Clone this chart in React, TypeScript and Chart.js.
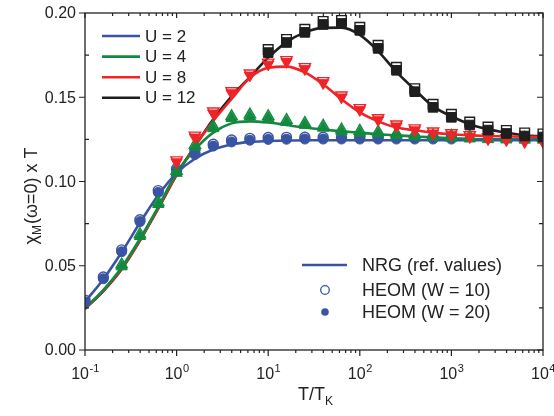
import React, { useEffect, useRef } from "react";
import { Chart, registerables } from "chart.js";

Chart.register(...registerables);

// Temperature grid T/T_K (0.2 decade steps from 10^-1 to 10^4)
const T = [
  0.1, 0.1585, 0.2512, 0.3981, 0.631, 1, 1.585, 2.512, 3.981, 6.31, 10, 15.85,
  25.12, 39.81, 63.1, 100, 158.5, 251.2, 398.1, 631, 1000, 1585, 2512, 3981,
  6310, 10000,
];

// NRG reference curves (one value per T)
const nrgU2 = [
  0.0286, 0.042, 0.058, 0.0755, 0.092, 0.105, 0.1135, 0.119, 0.122, 0.1235,
  0.124, 0.1243, 0.1245, 0.1245, 0.1245, 0.1245, 0.1245, 0.1245, 0.1245,
  0.1245, 0.1245, 0.1245, 0.1245, 0.1245, 0.1245, 0.1245,
];
const nrgU4 = [
  0.0248, 0.0356, 0.049, 0.066, 0.085, 0.105, 0.119, 0.129, 0.1345, 0.1357,
  0.135, 0.1335, 0.132, 0.1308, 0.1298, 0.129, 0.128, 0.1274, 0.1268, 0.1262,
  0.1257, 0.1253, 0.125, 0.125, 0.125, 0.125,
];
const nrgU8 = [
  0.0245, 0.0352, 0.0482, 0.0652, 0.0842, 0.104, 0.121, 0.136, 0.149, 0.1615,
  0.1675, 0.1682, 0.1648, 0.1577, 0.1488, 0.141, 0.1357, 0.132, 0.1304, 0.129,
  0.128, 0.1274, 0.127, 0.1268, 0.1266, 0.1265,
];
const nrgU12 = [
  0.0244, 0.035, 0.048, 0.065, 0.084, 0.104, 0.121, 0.137, 0.1506, 0.162,
  0.1735, 0.1827, 0.1885, 0.1912, 0.1913, 0.187, 0.1774, 0.165, 0.1545,
  0.1446, 0.1387, 0.134, 0.131, 0.129, 0.1274, 0.1268,
];

// HEOM results: U = 2 (T index 0..20)
const heomU2_W20 = [
  0.0286, 0.0423, 0.0583, 0.0762, 0.0935, 0.1065, 0.116, 0.121, 0.1235,
  0.1245, 0.125, 0.1251, 0.1252, 0.1252, 0.1252, 0.1252, 0.1252, 0.1252,
  0.1252, 0.1252, 0.1252,
];
const heomU2_W10 = [
  0.0296, 0.0433, 0.0594, 0.0773, 0.0946, 0.1076, 0.1171, 0.1221, 0.1246,
  0.1256, 0.1261, 0.1262, 0.1263, 0.1263, 0.1263, 0.1263, 0.1263, 0.1263,
  0.1263, 0.1263, 0.1263,
];
// U = 4 (T index 2..25)
const heomU4_W20 = [
  0.0495, 0.0675, 0.0865, 0.105, 0.1205, 0.1315, 0.1375, 0.1385, 0.1375,
  0.1352, 0.1335, 0.1318, 0.1296, 0.1288, 0.1283, 0.1272, 0.1266, 0.1262,
  0.1258, 0.1254, 0.125, 0.1248, 0.1247, 0.1247,
];
const heomU4_W10 = [
  0.0507, 0.0687, 0.0877, 0.1062, 0.1217, 0.1327, 0.1387, 0.1397, 0.1387,
  0.1364, 0.1347, 0.133, 0.1308, 0.13, 0.1295, 0.1284, 0.1278, 0.1274, 0.127,
  0.1266, 0.1262, 0.126, 0.1259, 0.1259,
];
// U = 8 (T index 5..25)
const heomU8_W20 = [
  0.1115, 0.1262, 0.1405, 0.1525, 0.163, 0.1695, 0.171, 0.1668, 0.1585, 0.15,
  0.1425, 0.1365, 0.1328, 0.1305, 0.1286, 0.1276, 0.1264, 0.1252, 0.1246,
  0.1235, 0.1235,
];
const heomU8_W10 = [
  0.1127, 0.1274, 0.1417, 0.1537, 0.1642, 0.1707, 0.1722, 0.168, 0.1597,
  0.1512, 0.1437, 0.1377, 0.134, 0.1317, 0.1298, 0.1288, 0.1276, 0.1264,
  0.1258, 0.1247, 0.1247,
];
// U = 12 (T index 10..25)
const heomU12_W20 = [
  0.1765, 0.1825, 0.1885, 0.1932, 0.1938, 0.1897, 0.179, 0.166, 0.1533, 0.144,
  0.1381, 0.1335, 0.1305, 0.1285, 0.127, 0.1264,
];
const heomU12_W10 = [
  0.1783, 0.1843, 0.1903, 0.195, 0.1956, 0.1915, 0.1808, 0.1678, 0.1551,
  0.1458, 0.1399, 0.1353, 0.1323, 0.1303, 0.1288, 0.1282,
];

const X_DECADES = [-1, 0, 1, 2, 3, 4];
const Y_MAJOR = [0, 0.05, 0.1, 0.15, 0.2];
const Y_MINOR = [0.025, 0.075, 0.125, 0.175];
const LEGEND_U = ["U = 2", "U = 4", "U = 8", "U = 12"];
const LEGEND_KIND = ["NRG (ref. values)", "HEOM (W = 10)", "HEOM (W = 20)"];

const BLUE = "#3a54a4";
const GREEN = "#128a3e";
const RED = "#ee2428";
const BLACK = "#1e1e1e";
const COLORS = [BLUE, GREEN, RED, BLACK];
const FONT = '"Liberation Sans", Arial, sans-serif';

const pts = (vals: number[], start: number) =>
  vals.map((v, i) => ({ x: T[start + i], y: v }));

const axesPlugin = {
  id: "customAxes",
  afterDraw(chart: any) {
    const ctx = chart.ctx as CanvasRenderingContext2D;
    const { left, right, top, bottom } = chart.chartArea;
    const xs = chart.scales.x;
    const ys = chart.scales.y;
    ctx.save();
    ctx.strokeStyle = "#222";
    ctx.lineWidth = 1.3;
    ctx.strokeRect(left, top, right - left, bottom - top);

    ctx.lineWidth = 1.2;
    ctx.beginPath();
    X_DECADES.forEach((d) => {
      const px = xs.getPixelForValue(Math.pow(10, d));
      ctx.moveTo(px, bottom);
      ctx.lineTo(px, bottom + 6);
      ctx.moveTo(px, top);
      ctx.lineTo(px, top + 5);
      if (d < 4) {
        for (let m = 2; m <= 9; m++) {
          const p = xs.getPixelForValue(m * Math.pow(10, d));
          ctx.moveTo(p, bottom);
          ctx.lineTo(p, bottom + 3);
          ctx.moveTo(p, top);
          ctx.lineTo(p, top + 3);
        }
      }
    });
    Y_MAJOR.forEach((v) => {
      const py = ys.getPixelForValue(v);
      ctx.moveTo(left - 6, py);
      ctx.lineTo(left, py);
      ctx.moveTo(right, py);
      ctx.lineTo(right - 6, py);
    });
    Y_MINOR.forEach((v) => {
      const py = ys.getPixelForValue(v);
      ctx.moveTo(left, py);
      ctx.lineTo(left + 4, py);
      ctx.moveTo(right, py);
      ctx.lineTo(right - 4, py);
    });
    ctx.stroke();

    ctx.fillStyle = "#222";
    // y tick labels
    ctx.font = `16px ${FONT}`;
    ctx.textAlign = "right";
    ctx.textBaseline = "middle";
    Y_MAJOR.forEach((v) => {
      ctx.fillText(v.toFixed(2), left - 9, ys.getPixelForValue(v) + 1);
    });

    // x tick labels 10^d
    ctx.textAlign = "left";
    ctx.textBaseline = "alphabetic";
    X_DECADES.forEach((d) => {
      const px = xs.getPixelForValue(Math.pow(10, d));
      ctx.font = `16px ${FONT}`;
      const wb = ctx.measureText("10").width;
      ctx.font = `11px ${FONT}`;
      const exp = d < 0 ? "-" + Math.abs(d) : String(d);
      const we = ctx.measureText(exp).width;
      const x0 = px - (wb + we) / 2;
      ctx.font = `16px ${FONT}`;
      ctx.fillText("10", x0, 379);
      ctx.font = `11px ${FONT}`;
      ctx.fillText(exp, x0 + wb + 0.5, 372);
    });

    // x title T/T_K
    ctx.font = `18px ${FONT}`;
    ctx.fillText("T/T", 298, 400);
    const wt = ctx.measureText("T/T").width;
    ctx.font = `12px ${FONT}`;
    ctx.fillText("K", 298 + wt, 405);

    // y title chi_M(omega=0) x T
    ctx.save();
    ctx.translate(31, 196);
    ctx.rotate(-Math.PI / 2);
    ctx.font = `18px ${FONT}`;
    const w1 = ctx.measureText("χ").width;
    const rest = "(ω=0) x T";
    const w3 = ctx.measureText(rest).width;
    ctx.font = `12px ${FONT}`;
    const w2 = ctx.measureText("M").width;
    const total = w1 + w2 + w3 + 1;
    let cx = -total / 2;
    ctx.font = `18px ${FONT}`;
    ctx.fillText("χ", cx, 6);
    cx += w1;
    ctx.font = `12px ${FONT}`;
    ctx.fillText("M", cx, 10);
    cx += w2 + 1;
    ctx.font = `18px ${FONT}`;
    ctx.fillText(rest, cx, 6);
    ctx.restore();

    // legend U
    ctx.textBaseline = "middle";
    ctx.font = `17px ${FONT}`;
    LEGEND_U.forEach((lab, i) => {
      const y = 36 + i * 20.6;
      ctx.strokeStyle = COLORS[i];
      ctx.lineWidth = 2.6;
      ctx.beginPath();
      ctx.moveTo(102, y);
      ctx.lineTo(140, y);
      ctx.stroke();
      ctx.fillStyle = "#222";
      ctx.fillText(lab, 145, y + 1);
    });

    // legend kinds
    ctx.font = `18px ${FONT}`;
    const ly = [265, 290, 312];
    ctx.strokeStyle = BLUE;
    ctx.lineWidth = 2.6;
    ctx.beginPath();
    ctx.moveTo(302, ly[0]);
    ctx.lineTo(347, ly[0]);
    ctx.stroke();
    ctx.lineWidth = 1.3;
    ctx.beginPath();
    ctx.arc(325, ly[1], 4.3, 0, Math.PI * 2);
    ctx.stroke();
    ctx.fillStyle = BLUE;
    ctx.beginPath();
    ctx.arc(325, ly[2], 3.8, 0, Math.PI * 2);
    ctx.fill();
    ctx.fillStyle = "#222";
    LEGEND_KIND.forEach((lab, i) => ctx.fillText(lab, 362, ly[i] + 1));

    ctx.restore();
  },
};

function lineDs(vals: number[], color: string) {
  return {
    data: pts(vals, 0),
    borderColor: color,
    backgroundColor: color,
    borderWidth: 2.6,
    pointRadius: 0,
    cubicInterpolationMode: "monotone" as const,
    showLine: true,
    order: 10,
  };
}

function markerDs(
  vals: number[],
  start: number,
  color: string,
  style: string,
  radius: number,
  filled: boolean,
  order: number,
  rotation = 0
) {
  return {
    data: pts(vals, start),
    showLine: false,
    pointStyle: style,
    pointRadius: radius,
    pointRotation: rotation,
    pointBorderColor: color,
    pointBackgroundColor: filled ? color : "rgba(0,0,0,0)",
    pointBorderWidth: filled ? 1 : 1.4,
    borderColor: color,
    backgroundColor: color,
    order,
  };
}

export default function App() {
  const ref = useRef<HTMLCanvasElement | null>(null);
  useEffect(() => {
    document.body.style.margin = "0";
    const canvas = ref.current;
    if (!canvas) return;
    const chart = new Chart(canvas, {
      type: "scatter",
      data: {
        datasets: [
          lineDs(nrgU2, BLUE),
          lineDs(nrgU4, GREEN),
          lineDs(nrgU8, RED),
          lineDs(nrgU12, BLACK),
          markerDs(heomU2_W20, 0, BLUE, "circle", 5, true, 4),
          markerDs(heomU2_W10, 0, BLUE, "circle", 5, false, 4),
          markerDs(heomU4_W20, 2, GREEN, "triangle", 6.5, true, 3),
          markerDs(heomU4_W10, 2, GREEN, "triangle", 6.5, false, 3),
          markerDs(heomU8_W20, 5, RED, "triangle", 6.5, true, 2, 180),
          markerDs(heomU8_W10, 5, RED, "triangle", 6.5, false, 2, 180),
          markerDs(heomU12_W20, 10, BLACK, "rect", 6.8, true, 1),
          markerDs(heomU12_W10, 10, BLACK, "rect", 6.8, false, 1),
        ] as any,
      },
      options: {
        animation: false,
        responsive: false,
        devicePixelRatio: 1,
        layout: { padding: { left: 85, right: 11, top: 13, bottom: 66 } },
        plugins: { legend: { display: false }, tooltip: { enabled: false } },
        scales: {
          x: { type: "logarithmic", min: 0.1, max: 10000, display: false },
          y: { type: "linear", min: 0, max: 0.2, display: false },
        },
      },
      plugins: [axesPlugin],
    });
    return () => chart.destroy();
  }, []);
  return (
    <div style={{ width: 554, height: 416, background: "#fff" }}>
      <canvas ref={ref} width={554} height={416} style={{ display: "block" }} />
    </div>
  );
}
